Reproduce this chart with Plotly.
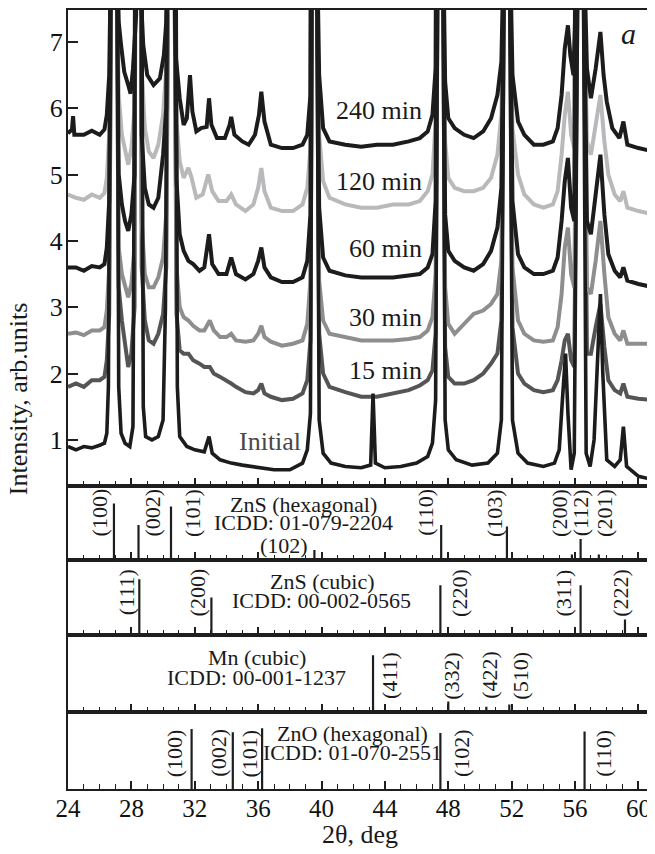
import plotly.graph_objects as go

# ---------------- data ----------------
# XRD curves: (2theta, intensity) points; strong peaks run off the top of the panel
CURVE_240 = [(24.0,5.62),(24.25,5.68),(24.32,5.88),(24.4,5.6),(25.0,5.6),(25.5,5.66),(26.0,5.6),(26.3,5.68),(26.45,5.9),(26.6,6.5),(26.75,9),(26.9,30),(27.05,9),(27.2,7.3),(27.35,6.95),(27.55,6.55),(27.8,6.35),(27.95,6.22),(28.1,6.6),(28.3,7.4),(28.45,30),(28.6,7.7),(28.75,6.95),(29.0,6.5),(29.4,6.35),(29.8,6.45),(30.05,6.8),(30.2,7.3),(30.35,9),(30.5,30),(30.65,9),(30.8,6.8),(31.05,6.15),(31.3,5.75),(31.5,5.85),(31.7,6.5),(31.85,5.95),(32.1,5.65),(32.4,5.7),(32.75,5.72),(32.9,6.15),(33.05,5.75),(33.4,5.55),(33.9,5.55),(34.2,5.75),(34.3,5.87),(34.5,5.6),(35.0,5.5),(35.4,5.45),(35.8,5.6),(36.05,5.9),(36.2,6.25),(36.4,5.8),(36.8,5.45),(37.5,5.4),(38.2,5.4),(38.8,5.45),(39.1,5.6),(39.3,6.2),(39.42,9),(39.55,30),(39.68,9),(39.85,6.5),(40.1,5.7),(40.5,5.5),(41.5,5.45),(42.5,5.42),(43.5,5.45),(44.5,5.45),(45.5,5.5),(46.2,5.55),(46.7,5.65),(47.0,5.9),(47.2,6.6),(47.35,9),(47.5,30),(47.65,9),(47.8,6.4),(48.0,5.85),(48.4,5.7),(49.0,5.6),(49.6,5.55),(50.2,5.65),(50.7,5.85),(51.1,6.2),(51.35,6.7),(51.55,9),(51.7,30),(51.85,9),(52.05,6.5),(52.4,5.8),(52.8,5.6),(53.4,5.45),(54.0,5.45),(54.6,5.5),(54.9,5.7),(55.15,6.2),(55.35,6.9),(55.55,7.25),(55.7,6.8),(55.9,6.5),(56.2,9),(56.35,30),(56.5,9),(56.75,6.6),(57.0,6.15),(57.3,6.6),(57.6,7.15),(57.8,6.5),(58.0,6.1),(58.35,5.7),(58.8,5.55),(59.05,5.8),(59.3,5.45),(60.0,5.4),(60.95,5.35)]

CURVE_120 = [(24.0,4.7),(24.5,4.65),(25.0,4.62),(25.5,4.7),(26.0,4.65),(26.3,4.72),(26.45,4.95),(26.6,5.6),(26.75,9),(26.9,30),(27.05,9),(27.2,6.2),(27.4,5.6),(27.6,5.35),(27.8,5.15),(28.0,5.4),(28.2,6.0),(28.45,30),(28.65,6.6),(28.85,5.7),(29.1,5.35),(29.4,5.25),(29.7,5.45),(30.0,5.9),(30.2,6.6),(30.35,9),(30.55,30),(30.7,9),(30.85,5.8),(31.05,5.2),(31.3,4.95),(31.6,5.1),(31.8,4.95),(32.1,4.65),(32.5,4.7),(32.85,5.0),(33.1,4.75),(33.5,4.6),(34.0,4.6),(34.3,4.7),(34.6,4.55),(35.2,4.45),(35.7,4.55),(36.0,4.8),(36.2,5.1),(36.4,4.75),(36.8,4.5),(37.5,4.45),(38.2,4.45),(38.8,4.55),(39.1,4.8),(39.3,5.4),(39.42,9),(39.55,30),(39.68,9),(39.85,5.6),(40.1,4.9),(40.5,4.65),(41.5,4.55),(42.5,4.5),(43.5,4.5),(44.5,4.55),(45.5,4.55),(46.2,4.6),(46.7,4.75),(47.0,5.0),(47.2,5.8),(47.35,9),(47.5,30),(47.65,9),(47.8,5.5),(48.0,4.95),(48.4,4.8),(49.0,4.75),(49.6,4.75),(50.2,4.8),(50.7,4.95),(51.1,5.3),(51.35,5.9),(51.55,9),(51.7,30),(51.85,9),(52.05,5.7),(52.4,5.0),(52.8,4.7),(53.4,4.55),(54.0,4.5),(54.6,4.55),(54.9,4.75),(55.15,5.3),(55.35,5.9),(55.55,6.25),(55.75,5.6),(55.95,5.4),(56.2,9),(56.35,30),(56.5,9),(56.75,5.5),(57.0,5.3),(57.3,5.8),(57.6,6.2),(57.85,5.5),(58.1,5.0),(58.5,4.7),(58.85,4.6),(59.05,4.75),(59.3,4.5),(60.0,4.45),(60.95,4.4)]

CURVE_60 = [(24.0,3.6),(24.5,3.6),(25.0,3.55),(25.5,3.62),(26.0,3.6),(26.3,3.65),(26.45,3.9),(26.6,4.6),(26.75,9),(26.9,30),(27.05,9),(27.2,5.0),(27.4,4.55),(27.6,4.3),(27.8,4.15),(28.0,4.4),(28.2,5.0),(28.45,30),(28.65,5.6),(28.85,4.8),(29.1,4.55),(29.4,4.5),(29.7,4.65),(30.0,5.3),(30.2,6.0),(30.35,9),(30.55,30),(30.7,9),(30.85,4.9),(31.05,4.1),(31.3,3.85),(31.6,3.7),(31.9,3.65),(32.3,3.55),(32.6,3.6),(32.9,4.1),(33.1,3.65),(33.5,3.5),(34.0,3.5),(34.3,3.75),(34.6,3.5),(35.2,3.42),(35.7,3.5),(36.0,3.7),(36.2,3.9),(36.4,3.6),(36.8,3.45),(37.5,3.38),(38.2,3.38),(38.8,3.45),(39.1,3.7),(39.3,4.4),(39.42,9),(39.55,30),(39.68,9),(39.85,4.5),(40.1,3.75),(40.5,3.55),(41.5,3.48),(42.5,3.45),(43.5,3.45),(44.5,3.45),(45.5,3.48),(46.2,3.5),(46.7,3.6),(47.0,3.8),(47.2,4.6),(47.35,9),(47.5,30),(47.65,9),(47.8,4.4),(48.0,3.85),(48.4,3.7),(49.0,3.6),(49.6,3.55),(50.2,3.65),(50.7,3.85),(51.1,4.2),(51.35,4.8),(51.55,9),(51.7,30),(51.85,9),(52.05,4.6),(52.4,3.8),(52.8,3.6),(53.4,3.5),(54.0,3.5),(54.6,3.55),(54.9,3.75),(55.15,4.3),(55.35,4.9),(55.55,5.25),(55.75,4.5),(55.95,4.3),(56.2,9),(56.35,30),(56.5,9),(56.75,4.3),(57.0,4.1),(57.3,4.7),(57.6,5.3),(57.85,4.4),(58.1,3.8),(58.5,3.55),(58.85,3.45),(59.05,3.6),(59.3,3.4),(60.0,3.35),(60.95,3.3)]

CURVE_30 = [(24.0,2.6),(24.5,2.62),(25.0,2.58),(25.5,2.65),(26.0,2.65),(26.3,2.7),(26.45,2.95),(26.6,3.6),(26.75,9),(26.9,30),(27.05,9),(27.2,3.9),(27.4,3.5),(27.6,3.3),(27.8,3.15),(28.0,3.35),(28.2,3.9),(28.45,30),(28.65,4.3),(28.85,3.5),(29.1,3.3),(29.4,3.3),(29.7,3.45),(30.0,3.75),(30.2,4.4),(30.35,9),(30.55,30),(30.7,9),(30.85,3.6),(31.05,3.0),(31.3,2.85),(31.6,2.8),(31.9,2.72),(32.3,2.65),(32.6,2.65),(32.95,2.8),(33.2,2.65),(33.6,2.55),(34.0,2.55),(34.3,2.6),(34.6,2.5),(35.2,2.48),(35.7,2.5),(36.0,2.6),(36.2,2.72),(36.4,2.55),(36.8,2.48),(37.5,2.42),(38.2,2.45),(38.8,2.5),(39.1,2.75),(39.3,3.4),(39.42,9),(39.55,30),(39.68,9),(39.85,3.4),(40.1,2.8),(40.5,2.6),(41.5,2.55),(42.5,2.5),(43.5,2.5),(44.5,2.5),(45.5,2.52),(46.2,2.55),(46.7,2.65),(47.0,2.85),(47.2,3.5),(47.35,9),(47.5,30),(47.65,9),(47.8,3.3),(48.0,2.75),(48.4,2.6),(49.0,2.75),(49.6,2.9),(50.2,2.95),(50.7,3.05),(51.1,3.2),(51.35,3.7),(51.55,9),(51.7,30),(51.85,9),(52.05,3.6),(52.4,2.8),(52.8,2.6),(53.4,2.5),(54.0,2.48),(54.6,2.5),(54.9,2.7),(55.15,3.2),(55.35,3.9),(55.55,4.2),(55.75,3.5),(55.95,3.3),(56.2,9),(56.35,30),(56.5,9),(56.75,3.3),(57.0,3.2),(57.3,3.7),(57.6,4.3),(57.85,3.5),(58.1,2.85),(58.5,2.6),(58.85,2.5),(59.05,2.65),(59.3,2.45),(60.0,2.45),(60.95,2.45)]

CURVE_15 = [(24.0,1.8),(24.5,1.85),(25.0,1.8),(25.5,1.9),(26.0,1.9),(26.3,1.95),(26.45,2.2),(26.6,2.9),(26.75,9),(26.9,30),(27.05,9),(27.2,3.3),(27.4,2.8),(27.6,2.4),(27.8,2.1),(28.0,2.3),(28.2,3.0),(28.45,30),(28.65,3.6),(28.85,2.8),(29.1,2.5),(29.4,2.45),(29.7,2.6),(30.0,2.9),(30.2,3.6),(30.35,9),(30.55,30),(30.7,9),(30.85,2.9),(31.05,2.35),(31.3,2.3),(31.6,2.3),(31.9,2.2),(32.3,2.15),(32.6,2.1),(32.95,2.1),(33.2,2.0),(33.6,1.95),(34.0,1.9),(34.3,1.85),(34.6,1.8),(35.2,1.72),(35.7,1.7),(36.0,1.75),(36.2,1.85),(36.4,1.7),(36.8,1.65),(37.5,1.6),(38.2,1.62),(38.8,1.7),(39.1,1.9),(39.3,2.5),(39.42,9),(39.55,30),(39.68,9),(39.85,2.6),(40.1,2.0),(40.5,1.8),(41.5,1.72),(42.5,1.65),(43.5,1.65),(44.5,1.7),(45.5,1.75),(46.2,1.82),(46.7,1.9),(47.0,2.05),(47.2,2.6),(47.35,9),(47.5,30),(47.65,9),(47.8,2.4),(48.0,1.95),(48.4,1.85),(49.0,1.85),(49.6,1.9),(50.2,2.0),(50.7,2.15),(51.1,2.3),(51.35,2.8),(51.55,9),(51.7,30),(51.85,9),(52.05,2.7),(52.4,2.0),(52.8,1.85),(53.4,1.75),(54.0,1.72),(54.6,1.75),(54.9,1.9),(55.15,2.2),(55.35,2.5),(55.55,2.6),(55.75,2.2),(55.95,2.1),(56.2,9),(56.35,30),(56.5,9),(56.75,2.3),(57.0,2.3),(57.3,2.7),(57.6,3.05),(57.85,2.4),(58.1,1.9),(58.5,1.75),(58.85,1.7),(59.05,1.85),(59.3,1.65),(60.0,1.62),(60.95,1.6)]

CURVE_INIT = [(24.0,0.9),(24.5,0.85),(25.0,0.9),(25.5,0.88),(26.0,0.92),(26.3,0.95),(26.45,1.1),(26.55,1.8),(26.7,9),(26.9,30),(27.1,9),(27.2,1.8),(27.35,1.1),(27.6,0.95),(27.9,0.9),(28.1,1.2),(28.25,9),(28.45,30),(28.65,9),(28.75,1.5),(28.9,1.05),(29.3,1.0),(29.7,1.05),(30.0,1.3),(30.15,3.0),(30.3,9),(30.55,30),(30.8,9),(30.9,1.8),(31.05,1.05),(31.5,0.9),(32.0,0.85),(32.6,0.82),(32.9,1.05),(33.1,0.8),(33.6,0.7),(34.3,0.65),(35.0,0.62),(36.0,0.58),(37.0,0.55),(38.0,0.55),(38.8,0.65),(39.1,0.85),(39.3,1.4),(39.42,9),(39.55,30),(39.68,9),(39.85,1.3),(40.1,0.8),(40.6,0.65),(41.5,0.6),(42.5,0.58),(43.1,0.62),(43.25,1.7),(43.4,0.65),(44.0,0.58),(45.0,0.6),(46.0,0.65),(46.7,0.75),(47.0,0.95),(47.2,1.6),(47.35,9),(47.5,30),(47.65,9),(47.8,1.3),(48.0,0.85),(48.5,0.7),(49.5,0.62),(50.5,0.65),(51.1,0.8),(51.35,1.3),(51.55,9),(51.7,30),(51.85,9),(52.05,1.3),(52.4,0.8),(53.0,0.65),(54.0,0.6),(54.7,0.65),(55.0,0.85),(55.2,1.6),(55.4,2.3),(55.55,1.4),(55.75,0.55),(55.95,0.8),(56.2,9),(56.35,30),(56.5,9),(56.7,0.8),(56.95,0.6),(57.2,1.0),(57.45,2.5),(57.6,3.2),(57.75,2.0),(58.0,0.7),(58.5,0.6),(58.85,0.7),(59.05,1.2),(59.25,0.6),(60.0,0.45),(60.95,0.4)]

CURVE_NAMES = ["240 min", "120 min", "60 min", "30 min", "15 min", "Initial"]
CURVE_LABEL_Y = [5.97, 4.9, 3.89, 2.85, 2.04, 0.98]

# reference patterns: positions (2theta), relative heights, labels, label positions
HEX_POS = [26.9, 28.45, 30.5, 39.55, 47.55, 51.7, 55.8, 56.35, 57.5]
HEX_H = [0.76, 0.47, 0.72, 0.13, 0.47, 0.45, 0.07, 0.28, 0.07]
HEX_LAB = ["(100)", "(002)", "(101)", "(102)", "(110)", "(103)", "(200)", "(112)", "(201)"]
HEX_LAB_X = [26.0, 29.35, 31.9, 37.65, 46.6, 50.9, 55.0, 56.35, 57.9]

CUB_POS = [28.5, 33.05, 47.5, 56.35, 59.15]
CUB_H = [0.74, 0.5, 0.66, 0.66, 0.21]
CUB_LAB = ["(111)", "(200)", "(220)", "(311)", "(222)"]
CUB_LAB_X = [27.7, 32.2, 48.7, 55.3, 58.85]

MN_POS = [43.25, 48.0, 50.4, 51.85]
MN_H = [0.74, 0.14, 0.07, 0.1]
MN_LAB = ["(411)", "(332)", "(422)", "(510)"]
MN_LAB_X = [44.3, 48.2, 50.6, 52.55]

ZNO_POS = [31.8, 34.4, 36.25, 47.5, 56.6]
ZNO_H = [0.78, 0.74, 0.79, 0.73, 0.75]
ZNO_LAB = ["(100)", "(002)", "(101)", "(102)", "(110)"]
ZNO_LAB_X = [30.7, 33.5, 35.45, 48.8, 57.8]

PANEL_TITLES = [("ZnS (hexagonal)", "ICDD: 01-079-2204"),
                ("ZnS (cubic)", "ICDD: 00-002-0565"),
                ("Mn (cubic)", "ICDD: 00-001-1237"),
                ("ZnO (hexagonal)", "ICDD: 01-070-2551")]
PANEL_TITLE_X = [38.85, 40.0, 35.9, 41.95]

Y_TICKS = [1, 2, 3, 4, 5, 6, 7]
X_TICKS = [24, 28, 32, 36, 40, 44, 48, 52, 56, 60]

# ---------------- layout helpers ----------------
# the page body adds an 8px offset; screen coordinates below are compensated for it
OFF = 8
W, H = 655 - OFF, 854 - OFF
PL, PR, PT, PB = 68, 655, 8, 789          # plot area in screen pixels
ML, MR, MT = PL - OFF, 0, PT - OFF
PH = PB - PT
PW = PR - PL
MB = H - MT - PH
FONT = "Liberation Serif"
LC = "#1e1e1e"
TXT = "#1a1a1a"


def pp(py):
    """screen y pixel -> paper y"""
    return (PB - py) / PH


def px(sx):
    """screen x pixel -> paper x"""
    return (sx - PL) / PW

fig = go.Figure()

styles = [("#1c1c1c", 4.0), ("#b9b9bb", 4.0), ("#1c1c1c", 4.0),
          ("#8e8e8e", 4.0), ("#555555", 4.0), ("#1c1c1c", 3.6)]
curves = [CURVE_240, CURVE_120, CURVE_60, CURVE_30, CURVE_15, CURVE_INIT]
order = [4, 3, 1, 2, 0, 5]
for i in order:
    xs = [p[0] for p in curves[i]]
    ys = [p[1] for p in curves[i]]
    col, w = styles[i]
    fig.add_trace(go.Scatter(x=xs, y=ys, mode="lines", line=dict(color=col, width=w),
                             xaxis="x", yaxis="y", showlegend=False, hoverinfo="skip"))

ref_sets = [(HEX_POS, HEX_H), (CUB_POS, CUB_H), (MN_POS, MN_H), (ZNO_POS, ZNO_H)]
for k, (pos, hh) in enumerate(ref_sets):
    xs, ys = [], []
    for p, h in zip(pos, hh):
        xs += [p, p, None]
        ys += [0, h, None]
    fig.add_trace(go.Scatter(x=xs, y=ys, mode="lines", line=dict(color=LC, width=2.2),
                             xaxis=f"x{k+2}", yaxis=f"y{k+2}", showlegend=False, hoverinfo="skip"))

XR = [24, 24 + PW / 15.9]


def xax(anchor, labels):
    d = dict(range=XR, anchor=anchor, showline=True, mirror=True, linecolor=LC, linewidth=2,
             ticks="inside", ticklen=8, tickwidth=1.5, tickcolor=LC,
             tickvals=X_TICKS, ticktext=[str(v) for v in X_TICKS],
             minor=dict(ticks="inside", dtick=1, tick0=24, ticklen=5, tickwidth=1.2, tickcolor=LC),
             showgrid=False, zeroline=False, showticklabels=labels,
             tickfont=dict(family=FONT, size=25, color="#111"), ticklabelstandoff=-4)
    if anchor != "y":
        d["matches"] = "x"
    return d

bounds = [PT, 485, 559, 635, 712, PB]
y_top = 7 + (40 - PT) / 66.5
layout = dict(width=W, height=H, margin=dict(l=ML, r=MR, t=MT, b=MB, pad=0),
              paper_bgcolor="white", plot_bgcolor="white", showlegend=False)
layout["xaxis"] = xax("y", False)
layout["yaxis"] = dict(domain=[pp(bounds[1]), 1], range=[1 - (485 - 439) / 66.5, y_top], anchor="x",
                       showline=True, mirror=True, linecolor=LC, linewidth=2,
                       ticks="inside", ticklen=10, tickwidth=1.5, tickcolor=LC,
                       tickvals=Y_TICKS, showgrid=False, zeroline=False,
                       tickfont=dict(family=FONT, size=26, color="#111"), ticklabelstandoff=-2)
for k in range(4):
    layout[f"xaxis{k+2}"] = xax(f"y{k+2}", k == 3)
    layout[f"yaxis{k+2}"] = dict(domain=[pp(bounds[k + 2]), pp(bounds[k + 1])], range=[0, 1],
                                 anchor=f"x{k+2}", showline=True, mirror=True, linecolor=LC,
                                 linewidth=2, ticks="", showticklabels=False,
                                 showgrid=False, zeroline=False)
fig.update_layout(**layout)

ann = []


def text(x, y, s, size, xref="x", yref="paper", xanchor="center", angle=0, color=TXT):
    ann.append(dict(x=x, y=y, xref=xref, yref=yref, text=s, showarrow=False,
                    xanchor=xanchor, yanchor="middle", textangle=angle,
                    font=dict(family=FONT, size=size, color=color)))

# curve labels
for name, yv in zip(CURVE_NAMES, CURVE_LABEL_Y):
    xr = 38.8 if name == "Initial" else 46.45
    text(xr, yv, name, 26, yref="y", xanchor="right",
         color="#474747" if name == "Initial" else TXT)
text(59.35, 7.13, "<i>a</i>", 30, yref="y")

# reference panel texts
title_rows = [(504, 522), (581, 600), (657, 677), (733, 752)]
for (t1, t2), xc, (r1, r2) in zip(PANEL_TITLES, PANEL_TITLE_X, title_rows):
    text(xc, pp(r1), t1, 22)
    text(xc, pp(r2), t2, 22)

lab_sets = [(HEX_LAB, HEX_LAB_X, 512), (CUB_LAB, CUB_LAB_X, 592),
            (MN_LAB, MN_LAB_X, 675), (ZNO_LAB, ZNO_LAB_X, 753)]
for k, (labs, lx, yc) in enumerate(lab_sets):
    for lab, x in zip(labs, lx):
        if k == 0 and lab == "(102)":
            text(x, pp(545), lab, 22)
        else:
            text(x, pp(yc), lab, 22, angle=-90)

# axis titles
text(px(18), pp(398), "Intensity, arb.units", 26, xref="paper", angle=-90)
text(px(361), pp(835), "2θ, deg", 26, xref="paper")
fig.update_layout(annotations=ann)

fig.write_html("out.html")
